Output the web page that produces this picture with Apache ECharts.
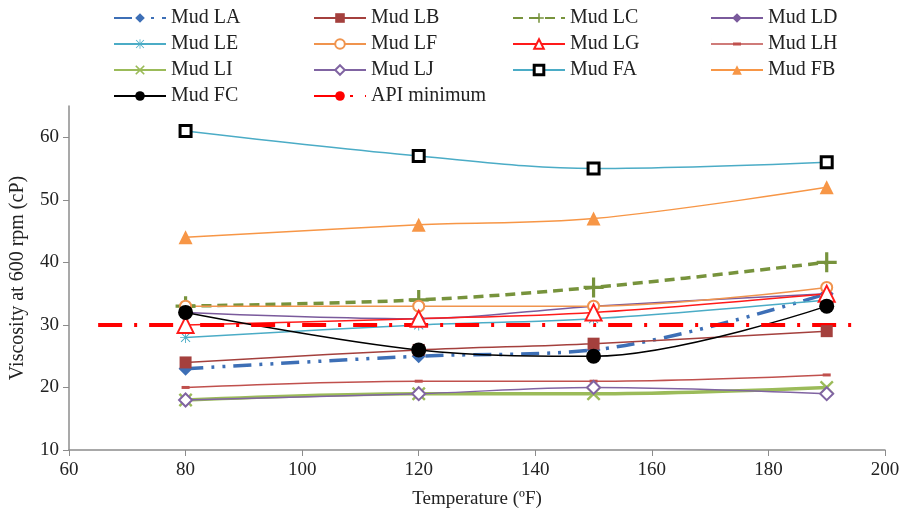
<!DOCTYPE html>
<html>
<head>
<meta charset="utf-8">
<script src="https://cdn.jsdelivr.net/npm/echarts@6/dist/echarts.min.js"></script>
<style>
  html, body { margin: 0; padding: 0; background: #fff; }
  #chart { width: 910px; height: 520px; }
</style>
</head>
<body>
<div id="chart"></div>
<script>
// temperatures (F) and viscosity at 600 rpm (cP)
var temps = [80, 120, 150, 190]
var mudLA = [23, 25, 26, 35]
var mudLB = [24, 26, 27, 29]
var mudLC = [33, 34, 36, 40]
var mudLD = [32, 31, 33, 35]
var mudLE = [28, 30, 31, 34]
var mudLF = [33, 33, 33, 36]
var mudLG = [30, 31, 32, 35]
var mudLH = [20, 21, 21, 22]
var mudLI = [18, 19, 19, 20]
var mudLJ = [18, 19, 20, 19]
var mudFA = [61, 57, 55, 56]
var mudFB = [44, 46, 47, 52]
var mudFC = [32, 26, 25, 33]
var apiX = [65, 195]
var apiMin = 30
var yTicks = [10, 20, 30, 40, 50, 60]

var FONT = 'Liberation Serif'
var plusPath = 'path://M4.2,0H5.8V4.2H10V5.8H5.8V10H4.2V5.8H0V4.2H4.2Z'
var xPath = 'path://M0,1.2L1.2,0L5,3.8L8.8,0L10,1.2L6.2,5L10,8.8L8.8,10L5,6.2L1.2,10L0,8.8L3.8,5Z'
var starPath = 'path://M4.6,0H5.4V10H4.6Z M0,4.6H10V5.4H0Z M1.2,0.6L9.4,8.8L8.8,9.4L0.6,1.2Z M8.8,0.6L9.4,1.2L1.2,9.4L0.6,8.8Z'
// legend icon for LH: thin line with a short thicker dash in the middle
var lhIcon = 'path://M0,5.3H52V6.7H0Z M22,4.5H30V7.5H22Z M0,0H0.01V12H0Z'

function pts(vals) {
    var out = []
    for (var i in vals) {
        out.push([temps[i], vals[i]])
    }
    return out
}

function mud(name, vals, color, width, dash, symbol, size, extra) {
    var s = {
        name: name,
        type: 'line',
        data: pts(vals),
        smooth: 0.35,
        symbol: symbol,
        symbolSize: size,
        lineStyle: { color: color, width: width, type: dash },
        itemStyle: { color: color },
        emphasis: { disabled: true }
    }
    if (extra) {
        for (var k in extra) s[k] = extra[k]
    }
    return s
}

var faMarker = { color: '#ffffff', borderColor: '#000000', borderWidth: 3 }

var series = [
    mud('Mud LA', mudLA, '#3d6fb6', 3.5, [18, 8, 3, 8, 3, 8], 'diamond', 14),
    mud('Mud LB', mudLB, '#a4403d', 1.5, 'solid', 'rect', 12),
    mud('Mud LC', mudLC, '#77933c', 3.5, [10, 6], plusPath, 20),
    mud('Mud LD', mudLD, '#7a5a9c', 1.5, 'solid', 'diamond', 13),
    mud('Mud LE', mudLE, '#4bacc6', 1.5, 'solid', starPath, 11),
    mud('Mud LF', mudLF, '#f0944e', 1.5, 'solid', 'emptyCircle', 11,
        { itemStyle: { color: '#f0944e', borderColor: '#f0944e', borderWidth: 1 } }),
    mud('Mud LG', mudLG, '#ff1a1a', 1.5, 'solid', 'emptyTriangle', 16,
        { itemStyle: { color: '#ff1a1a', borderColor: '#ff1a1a', borderWidth: 2 } }),
    mud('Mud LH', mudLH, '#c0504d', 1.5, 'solid', 'rect', [8, 3]),
    mud('Mud LI', mudLI, '#9bbb59', 3.5, 'solid', xPath, 14),
    mud('Mud LJ', mudLJ, '#8064a2', 1.5, 'solid', 'emptyDiamond', 13,
        { itemStyle: { color: '#8064a2', borderColor: '#8064a2', borderWidth: 2 } }),
    mud('Mud FA', mudFA, '#4bacc6', 1.5, 'solid', 'rect', 11, { itemStyle: faMarker }),
    mud('Mud FB', mudFB, '#f79646', 1.5, 'solid', 'triangle', 14),
    mud('Mud FC', mudFC, '#000000', 1.5, 'solid', 'circle', 15),
    {
        name: 'API minimum',
        type: 'line',
        data: [[apiX[0], apiMin], [apiX[1], apiMin]],
        symbol: 'none',
        lineStyle: { color: '#ff0000', width: 4, type: [24, 12, 3, 12] },
        itemStyle: { color: '#ff0000' },
        emphasis: { disabled: true },
        z: 3
    }
]

function legendCol(left, names) {
    return {
        orient: 'vertical',
        left: left,
        top: 3,
        itemWidth: 52,
        itemHeight: 12,
        itemGap: 6,
        selectedMode: false,
        data: names,
        textStyle: { fontFamily: FONT, fontSize: 20, color: '#222', lineHeight: 20, padding: [0, 0, 0, 0] }
    }
}

var chart = echarts.init(document.getElementById('chart'))
var option = {
    animation: false,
    backgroundColor: '#fff',
    legend: [
        legendCol(108, ['Mud LA', 'Mud LE', 'Mud LI', 'Mud FC']),
        legendCol(308, ['Mud LB', 'Mud LF', 'Mud LJ', 'API minimum']),
        legendCol(507, ['Mud LC', 'Mud LG', { name: 'Mud FA', itemStyle: faMarker }]),
        legendCol(705, ['Mud LD', { name: 'Mud LH', icon: lhIcon }, 'Mud FB'])
    ],
    grid: { left: 69, right: 25, top: 106, bottom: 70 },
    xAxis: {
        type: 'value',
        min: 60,
        max: 200,
        interval: 20,
        name: 'Temperature (\u00baF)',
        nameLocation: 'middle',
        nameGap: 40,
        nameTextStyle: { fontFamily: FONT, fontSize: 19, color: '#222' },
        axisLine: { lineStyle: { color: '#8c8c8c', width: 1.5 } },
        axisTick: { show: true, length: 6, lineStyle: { color: '#8c8c8c' } },
        axisLabel: { fontFamily: FONT, fontSize: 19, color: '#222', margin: 11 },
        splitLine: { show: false }
    },
    yAxis: {
        type: 'value',
        min: 10,
        max: 65,
        interval: 10,
        name: 'Viscosity at 600 rpm (cP)',
        nameLocation: 'middle',
        nameGap: 41,
        nameTextStyle: { fontFamily: FONT, fontSize: 20, color: '#222' },
        axisLine: { show: true, lineStyle: { color: '#8c8c8c', width: 1.5 } },
        axisTick: { show: true, length: 6, customValues: yTicks, lineStyle: { color: '#8c8c8c' } },
        axisLabel: { fontFamily: FONT, fontSize: 19, color: '#222', margin: 10, customValues: yTicks },
        splitLine: { show: false }
    },
    series: series
}
chart.setOption(option)
</script>
</body>
</html>
